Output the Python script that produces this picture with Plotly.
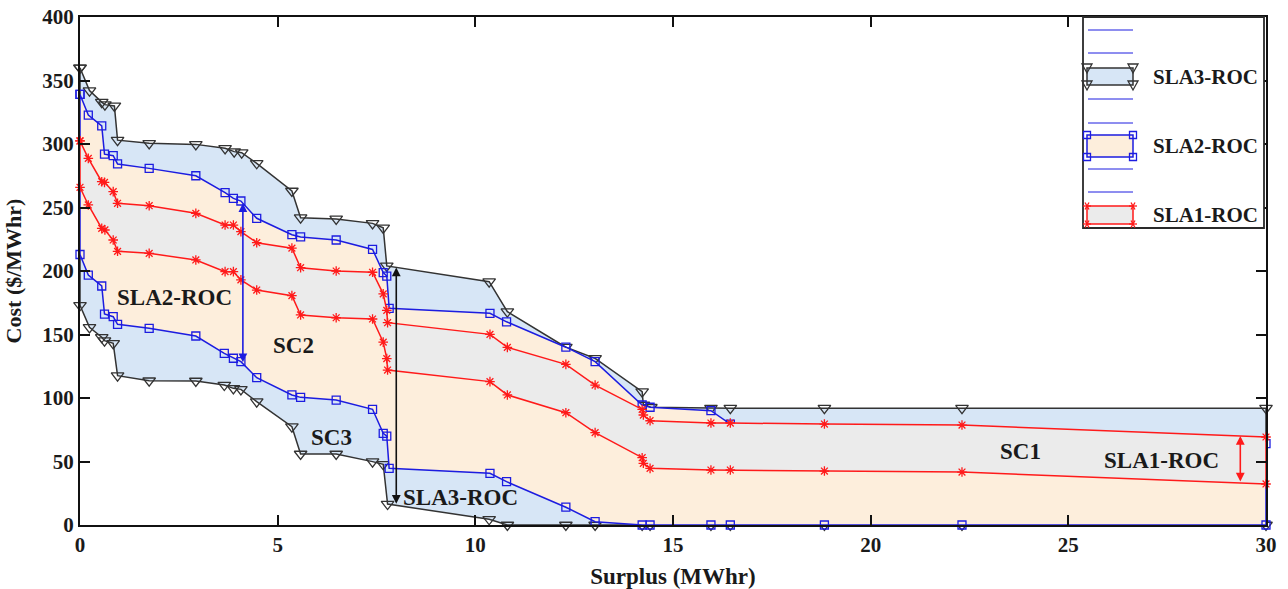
import plotly.graph_objects as go
import numpy as np

# ---------------- data ----------------
sla3_up_x = [0, 0.24, 0.55, 0.63, 0.87, 0.95, 1.75, 2.93, 3.67, 3.90, 4.09, 4.47, 5.36, 5.58, 6.48, 7.40, 7.67, 7.76,
             10.35, 10.81, 12.29, 13.03, 14.22, 14.25, 14.44, 15.96, 16.45, 18.83, 22.31, 30]
sla3_up_y = [360, 342, 333, 331, 330, 303, 300.5, 299.7, 296.6, 294, 293.2, 284.8, 263, 242, 241, 237.5, 234, 204,
             191.6, 168, 140, 131.2, 105, 94.5, 92.7, 92, 92, 92, 92, 92]
sla3_lo_x = [0, 0.24, 0.55, 0.62, 0.84, 0.95, 1.75, 2.93, 3.65, 3.88, 4.07, 4.47, 5.36, 5.58, 6.48, 7.40, 7.67, 7.78,
             10.35, 10.81, 12.29, 13.03, 14.22, 14.42, 15.96, 16.45, 18.83, 22.31, 30]
sla3_lo_y = [173, 155.6, 147.8, 145.1, 143, 117.6, 113.6, 113.4, 110.2, 107.6, 106.8, 97.1, 77.4, 55.9, 55.9, 49.9,
             47.8, 16.5, 4.5, 0, 0, 0, 0, 0, 0, 0, 0, 0, 0]

sla2_up_x = [0, 0.21, 0.55, 0.62, 0.84, 0.95, 1.75, 2.93, 3.67, 3.88, 4.07, 4.47, 5.36, 5.58, 6.48, 7.40, 7.67, 7.76,
             7.82, 10.37, 10.79, 12.29, 13.03, 14.22, 14.42, 15.96, 16.45, 18.83, 22.31, 30]
sla2_up_y = [339, 322.8, 314.2, 292, 290.8, 284.3, 280.8, 275, 261.7, 257.2, 255.1, 241.5, 228.6, 226.8, 224.4, 217,
             198.7, 196, 170.6, 166.7, 160, 140, 128.6, 94.5, 92.7, 90, 79.5, 74, 72, 64]
sla2_lo_x = [0, 0.21, 0.55, 0.62, 0.84, 0.95, 1.75, 2.93, 3.65, 3.88, 4.07, 4.47, 5.36, 5.58, 6.48, 7.40, 7.67, 7.76,
             7.82, 10.37, 10.79, 12.29, 13.03, 14.22, 14.42, 15.96, 16.45, 18.83, 22.31, 30]
sla2_lo_y = [213, 196.8, 188.2, 166.1, 164, 158, 154.9, 148.8, 135.2, 131.3, 128.6, 116, 102.4, 100.5, 98.4, 91.1,
             72.2, 70, 44.6, 40.7, 34.1, 14, 2.6, 0, 0, 0, 0, 0, 0, 0]

sla1_up_x = [0, 0.21, 0.55, 0.62, 0.84, 0.95, 1.75, 2.93, 3.67, 3.88, 4.07, 4.47, 5.36, 5.58, 6.48, 7.40, 7.67, 7.76,
             7.78, 10.37, 10.81, 12.29, 13.03, 14.22, 14.25, 14.42, 15.96, 16.45, 18.83, 22.31, 30]
sla1_up_y = [302.4, 288.7, 270.3, 269.8, 262.5, 253.3, 251.4, 245.4, 236.2, 236.2, 231, 222.3, 218, 202.6, 200, 199,
             182, 169, 159.3, 150.1, 139.9, 126.5, 110.2, 91, 86.6, 82.1, 80.3, 80.3, 79.5, 78.7, 69.3]
sla1_lo_x = [0, 0.21, 0.55, 0.63, 0.84, 0.95, 1.75, 2.93, 3.67, 3.88, 4.07, 4.47, 5.36, 5.58, 6.48, 7.40, 7.67, 7.76,
             7.78, 10.37, 10.81, 12.29, 13.03, 14.22, 14.25, 14.42, 15.96, 16.45, 18.83, 22.31, 30]
sla1_lo_y = [265.9, 252, 233.6, 232.3, 224.4, 215.5, 213.9, 208.7, 199.5, 199.5, 193, 185, 180.6, 165.4, 163.2, 162.2,
             144, 131, 122, 112.9, 102.4, 88.4, 72.7, 53, 48.6, 44.6, 43.3, 43.3, 42.5, 41.7, 32.3]

x_ticks = [0, 5, 10, 15, 20, 25, 30]
y_ticks = [0, 50, 100, 150, 200, 250, 300, 350, 400]
legend_labels = ["SLA3-ROC", "SLA2-ROC", "SLA1-ROC"]
arrow_x = {"SLA2": 4.12, "SLA3": 8.0, "SLA1": 29.35}

# ---------------- styles ----------------
W, H = 1288, 589
ML, MR, MT, MB = 80, 22, 17, 64
PW, PH = W - ML - MR, H - MT - MB
FONT = "Liberation Serif"
TXT = "#1a1a1a"
BLUE_FILL = "#d7e6f6"
PEACH_FILL = "#fdeedc"
GRAY_FILL = "#ebebeb"
BLACK = "#333333"
BLUE = "#1c1ce0"
RED = "#ff1a1a"


def closed(ux, uy, lx, ly):
    xs = list(ux) + list(lx)[::-1] + [ux[0]]
    ys = list(uy) + list(ly)[::-1] + [uy[0]]
    return xs, ys


fig = go.Figure()
specs = [
    (sla3_up_x, sla3_up_y, sla3_lo_x, sla3_lo_y, BLUE_FILL, BLACK, "triangle-down-open", 11, "SLA3-ROC"),
    (sla2_up_x, sla2_up_y, sla2_lo_x, sla2_lo_y, PEACH_FILL, BLUE, "square-open", 8, "SLA2-ROC"),
    (sla1_up_x, sla1_up_y, sla1_lo_x, sla1_lo_y, GRAY_FILL, RED, "asterisk-open", 8, "SLA1-ROC"),
]
for ux, uy, lx, ly, fc, lc, sym, ms, nm in specs:
    xs, ys = closed(ux, uy, lx, ly)
    fig.add_trace(go.Scatter(
        x=xs, y=ys, mode="lines+markers", fill="toself", fillcolor=fc,
        line=dict(color=lc, width=1.5),
        marker=dict(symbol=sym, size=ms, color=lc, line=dict(color=lc, width=1.3)),
        name=nm, showlegend=False, cliponaxis=False, hoverinfo="skip"))

# ---------------- arrows (endpoints from the curves) ----------------
annotations = []
arrow_defs = [
    (arrow_x["SLA2"], sla2_up_x, sla2_up_y, sla2_lo_x, sla2_lo_y, BLUE),
    (arrow_x["SLA3"], sla3_up_x, sla3_up_y, sla3_lo_x, sla3_lo_y, "#111111"),
    (arrow_x["SLA1"], sla1_up_x, sla1_up_y, sla1_lo_x, sla1_lo_y, RED),
]
for ax_, ux, uy, lx, ly, col in arrow_defs:
    ytop = float(np.interp(ax_, ux, uy))
    ybot = float(np.interp(ax_, lx, ly))
    annotations.append(dict(
        x=ax_, y=ytop, ax=ax_, ay=ybot, xref="x", yref="y", axref="x", ayref="y",
        text="", showarrow=True, arrowhead=2, arrowside="end+start", arrowsize=1.1,
        arrowwidth=1.6, arrowcolor=col, standoff=0, startstandoff=0))

lab_font = dict(family=FONT, size=23, color=TXT, weight="bold")
for txt, x, y, xa in [("SLA2-ROC", 2.4, 179.5, "center"), ("SC2", 5.4, 141, "center"),
                      ("SC3", 6.35, 69, "center"), ("SLA3-ROC", 8.12, 22, "left"),
                      ("SC1", 23.8, 57.5, "center"), ("SLA1-ROC", 27.35, 51, "center")]:
    annotations.append(dict(x=x, y=y, xref="x", yref="y", text=txt, showarrow=False,
                            xanchor=xa, yanchor="middle", font=lab_font))


# ---------------- manual legend (MATLAB-style box) ----------------
def px(xp):
    return (xp - ML) / PW


def py(yp):
    return (H - MB - yp) / PH


shapes = []
shapes.append(dict(type="rect", xref="paper", yref="paper", x0=px(1083), x1=px(1264), y0=py(228), y1=py(17),
                   line=dict(color="#2a2a2a", width=1.8), fillcolor="white", layer="above"))
for yy in [30, 53, 99, 123, 169, 192]:
    shapes.append(dict(type="line", xref="paper", yref="paper", x0=px(1088), x1=px(1133), y0=py(yy), y1=py(yy),
                       line=dict(color=BLUE, width=1)))
patches = [(68, 85, BLUE_FILL, BLACK, "tri"), (135, 157, PEACH_FILL, BLUE, "sq"), (206, 224, GRAY_FILL, RED, "star")]
for (t, b, fc, lc, kind), lab in zip(patches, legend_labels):
    shapes.append(dict(type="rect", xref="paper", yref="paper", x0=px(1087), x1=px(1133), y0=py(b), y1=py(t),
                       line=dict(color=lc, width=1.5), fillcolor=fc))
    for cx in (1087, 1133):
        for cy in (t, b):
            if kind == "tri":
                path = "M {} {} L {} {} L {} {} Z".format(px(cx - 5), py(cy - 4), px(cx + 5), py(cy - 4),
                                                         px(cx), py(cy + 5))
                shapes.append(dict(type="path", xref="paper", yref="paper", path=path,
                                   line=dict(color=lc, width=1.3)))
            elif kind == "sq":
                shapes.append(dict(type="rect", xref="paper", yref="paper", x0=px(cx - 3.5), x1=px(cx + 3.5),
                                   y0=py(cy + 3.5), y1=py(cy - 3.5), line=dict(color=lc, width=1.3)))
            else:
                for dx, dy in [(4, 0), (2, 3.5), (2, -3.5)]:
                    shapes.append(dict(type="line", xref="paper", yref="paper", x0=px(cx - dx), x1=px(cx + dx),
                                       y0=py(cy - dy), y1=py(cy + dy), line=dict(color=lc, width=1.3)))
    annotations.append(dict(x=px(1151), y=py((t + b) / 2), xref="paper", yref="paper", text=lab,
                            showarrow=False, xanchor="left", yanchor="middle",
                            font=dict(family=FONT, size=21, color=TXT, weight="bold")))

axis_common = dict(showline=True, linecolor="#111111", linewidth=2, mirror="ticks", ticks="inside",
                   ticklen=10, tickwidth=2, tickcolor="#111111", showgrid=False, zeroline=False,
                   automargin=False,
                   tickfont=dict(family=FONT, size=21, color=TXT, weight="bold"))

fig.update_layout(
    width=W, height=H, margin=dict(l=ML, r=MR, t=MT, b=MB),
    paper_bgcolor="white", plot_bgcolor="white",
    xaxis=dict(range=[0, 30], tickvals=x_ticks, **axis_common,
               title=dict(text="Surplus (MWhr)", font=dict(family=FONT, size=23, color=TXT, weight="bold"))),
    yaxis=dict(range=[0, 400], tickvals=y_ticks, **axis_common,
               title=dict(text="Cost ($/MWhr)", font=dict(family=FONT, size=22, color=TXT, weight="bold"))),
    annotations=annotations, shapes=shapes, showlegend=False,
)

fig.write_html("out.html")
